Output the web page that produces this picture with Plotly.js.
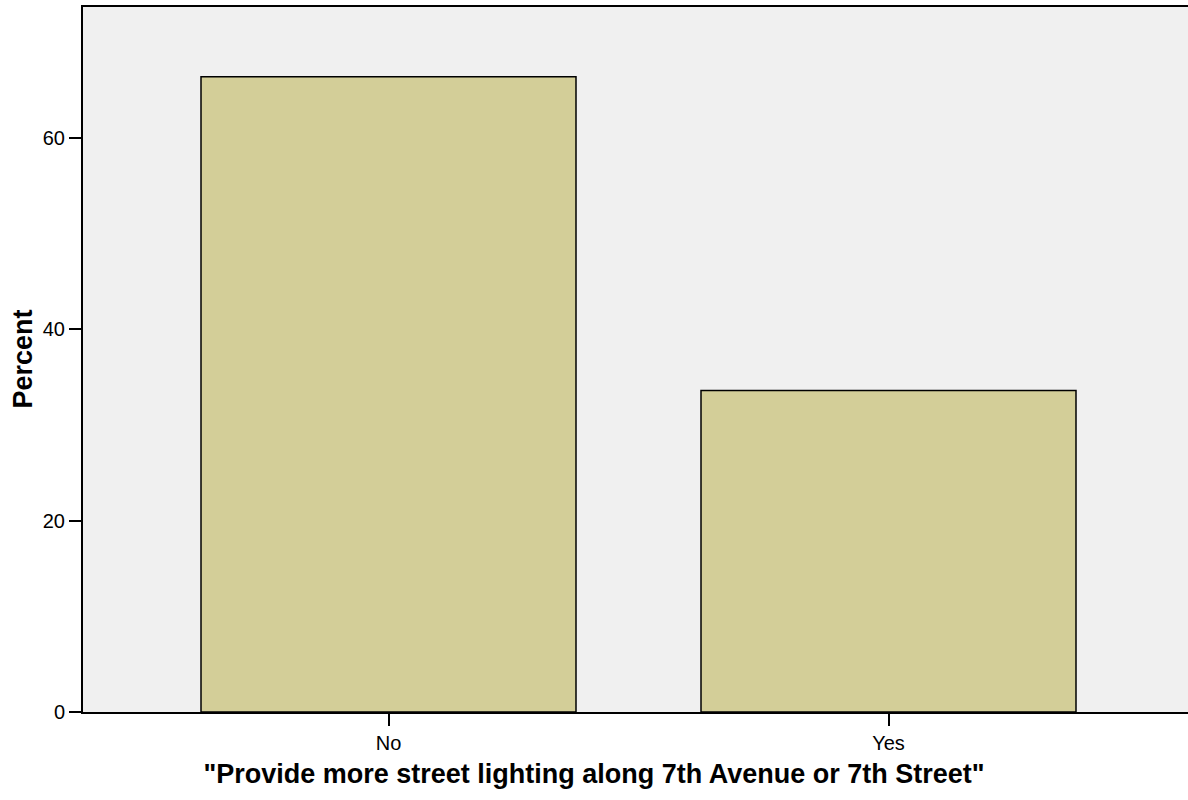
<!DOCTYPE html>
<html>
<head>
<meta charset="utf-8">
<script src="https://cdn.plot.ly/plotly-3.0.1.min.js"></script>
<style>html,body{margin:0;padding:0;background:#fff;overflow:hidden;}</style>
</head>
<body>
<div id="chart" style="width:1188px;height:800px;"></div>
<script>
const categories = ["No", "Yes"];
const percentValues = [66.4, 33.6];
const yTickValues = [0, 20, 40, 60];
const yTickLabels = ["0", "20", "40", "60"];
const xTitle = "\"Provide more street lighting along 7th Avenue or 7th Street\"";
const yTitle = "Percent";

const trace = {
  type: "bar",
  x: categories,
  y: percentValues,
  width: 0.75,
  marker: { color: "#D3CE98", line: { color: "#000000", width: 1.5 } },
  hoverinfo: "x+y"
};

const layout = {
  width: 1188,
  height: 800,
  margin: { l: 83, r: 0, t: 7, b: 88, pad: 0 },
  paper_bgcolor: "#FFFFFF",
  plot_bgcolor: "#F0F0F0",
  font: { family: "Liberation Sans, Arial, sans-serif", color: "#000000", size: 20 },
  showlegend: false,
  bargap: 0,
  title: {
    text: "<b>" + xTitle + "</b>",
    font: { family: "Liberation Sans, Arial, sans-serif", size: 27, color: "#000000" },
    xref: "container", x: 0.5, xanchor: "center",
    yref: "container", y: 0.0325, yanchor: "middle"
  },
  xaxis: {
    type: "category",
    range: [-0.611, 1.599],
    showline: true, linecolor: "#000000", linewidth: 2, mirror: true,
    ticks: "outside", ticklen: 12, tickwidth: 2, tickcolor: "#000000",
    showgrid: false, zeroline: false,
    tickfont: { size: 20 },
    fixedrange: true
  },
  yaxis: {
    range: [0, 73.7],
    tickvals: yTickValues,
    ticktext: yTickLabels,
    showline: true, linecolor: "#000000", linewidth: 2,
    ticks: "outside", ticklen: 12, tickwidth: 2, tickcolor: "#000000",
    showgrid: false, zeroline: false,
    tickfont: { size: 20 },
    fixedrange: true
  },
  annotations: [{
    text: "<b>" + yTitle + "</b>",
    xref: "paper", yref: "paper",
    x: -0.0552, y: 0.5,
    xanchor: "center", yanchor: "middle",
    textangle: -90,
    showarrow: false,
    font: { family: "Liberation Sans, Arial, sans-serif", size: 27, color: "#000000" }
  }]
};

Plotly.newPlot("chart", [trace], layout, { displayModeBar: false, staticPlot: true });
</script>
</body>
</html>
